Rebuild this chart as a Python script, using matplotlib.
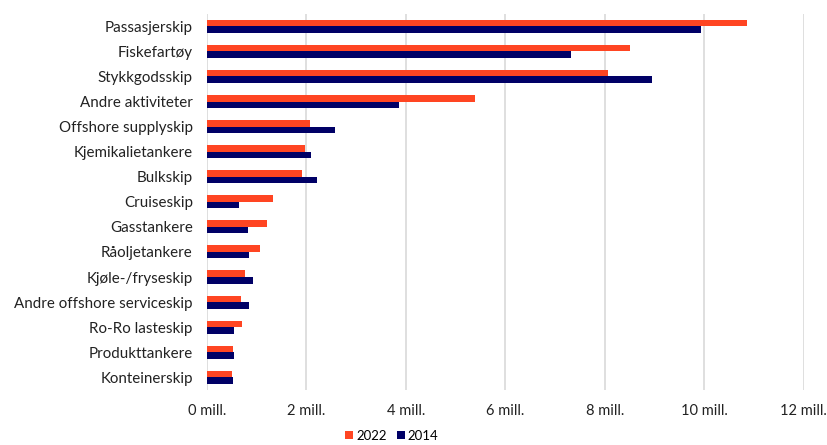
import numpy as np
import matplotlib.pyplot as plt

plt.rcParams['font.family'] = ['Lato', 'DejaVu Sans']

categories = ['Passasjerskip', 'Fiskefartøy', 'Stykkgodsskip', 'Andre aktiviteter',
              'Offshore supplyskip', 'Kjemikalietankere', 'Bulkskip', 'Cruiseskip',
              'Gasstankere', 'Råoljetankere', 'Kjøle-/fryseskip',
              'Andre offshore serviceskip', 'Ro-Ro lasteskip', 'Produkttankere',
              'Konteinerskip']
v2022 = [10.85, 8.50, 8.06, 5.39, 2.07, 1.97, 1.91, 1.33, 1.21, 1.07, 0.76, 0.68, 0.70, 0.52, 0.50]
v2014 = [9.93, 7.32, 8.94, 3.86, 2.57, 2.09, 2.21, 0.64, 0.82, 0.84, 0.92, 0.84, 0.54, 0.54, 0.52]
xticks = [0, 2, 4, 6, 8, 10, 12]

orange = '#ff4522'
navy = '#000066'

fig = plt.figure(figsize=(8.27, 4.45), dpi=100)
ax = fig.add_axes([0.250, 0.124, 0.722, 0.845])

y = np.arange(len(categories))
h = 0.26
ax.barh(y - h / 2, v2022, height=h, color=orange, label='2022', zorder=3)
ax.barh(y + h / 2, v2014, height=h, color=navy, label='2014', zorder=3)

ax.set_ylim(len(categories) - 0.5, -0.5)
ax.set_xlim(0, 12)
ax.set_yticks(y)
ax.set_yticklabels(categories, fontsize=10.9, color='#222222')
ax.set_xticks(xticks)
ax.set_xticklabels([f'{t} mill.' for t in xticks], fontsize=10.5, color='#222222')
ax.tick_params(length=0)
ax.tick_params(axis='x', pad=10)
ax.tick_params(axis='y', pad=10)
ax.grid(axis='x', color='#d9d9d9', linewidth=1.2, zorder=0)
for s in ax.spines.values():
    s.set_visible(False)

ax.legend(loc='center', bbox_to_anchor=(0.31, -0.122), ncol=2, frameon=False,
          fontsize=9.5, handlelength=0.6, handleheight=0.6, handletextpad=0.2,
          columnspacing=0.8, borderpad=0.1)

fig.savefig('out.png', dpi=100)
